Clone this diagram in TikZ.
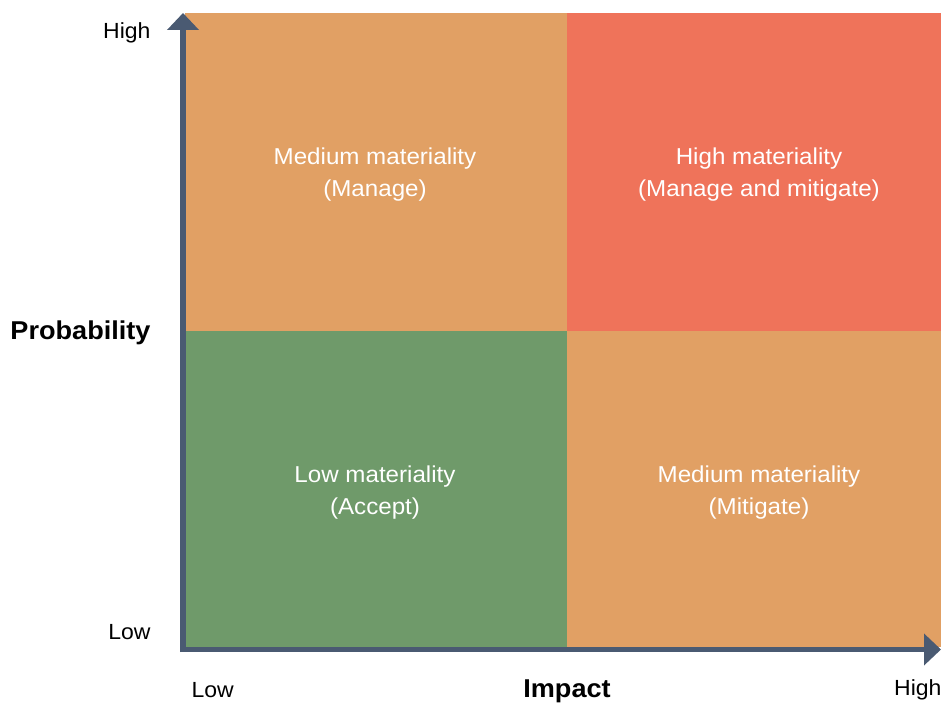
\documentclass[tikz,border=0pt]{standalone}
\usepackage{fontspec}
\setmainfont{Liberation Sans}[FakeStretch=1.05]
\usetikzlibrary{arrows.meta}
\definecolor{orangeq}{HTML}{E1A064}
\definecolor{redq}{HTML}{EF735A}
\definecolor{greenq}{HTML}{6F9A6A}
\definecolor{axisc}{HTML}{4A5A72}
\begin{document}
\begin{tikzpicture}[x=1pt,y=-1pt,
  qlabel/.style={text=white,font=\fontsize{23}{32}\selectfont,align=center},
  axlabel/.style={text=black,font=\fontsize{21.9}{24}\selectfont},
  axtitle/.style={text=black,font=\fontsize{25.8}{30}\selectfont\bfseries},
  axisline/.style={draw=axisc,line width=5.5pt,-{Triangle[width=31pt,length=17pt]}}]
\useasboundingbox (0,0) rectangle (941,706);
\fill[orangeq] (185,13) rectangle (567,331);
\fill[redq] (567,13) rectangle (941,331);
\fill[greenq] (185,331) rectangle (567,647);
\fill[orangeq] (567,331) rectangle (941,647);
\node[qlabel] (tl) at (375,175) {Medium materiality\\(Manage)};
\node[qlabel] (tr) at (759,175) {High materiality\\(Manage and mitigate)};
\node[qlabel] (bl) at (375,493) {Low materiality\\(Accept)};
\node[qlabel] (br) at (759,493) {Medium materiality\\(Mitigate)};
\coordinate (ytop) at (183,13);
\coordinate (xend) at (941,649.5);
\draw[axisline] (183,652) -- (ytop);
\draw[axisline] (180.5,649.5) -- (xend);
\node[axlabel,anchor=east] (yh) at (154,33) {High};
\node[axlabel,anchor=east] (yl) at (154,632) {Low};
\node[axtitle,anchor=east] (yt) at (154,333) {Probability};
\node[axlabel,anchor=west] (xl) at (188,690) {Low};
\node[axlabel,anchor=east] (xh) at (945,690) {High};
\node[axtitle] (xt) at (567,691) {Impact};
\end{tikzpicture}
\end{document}
